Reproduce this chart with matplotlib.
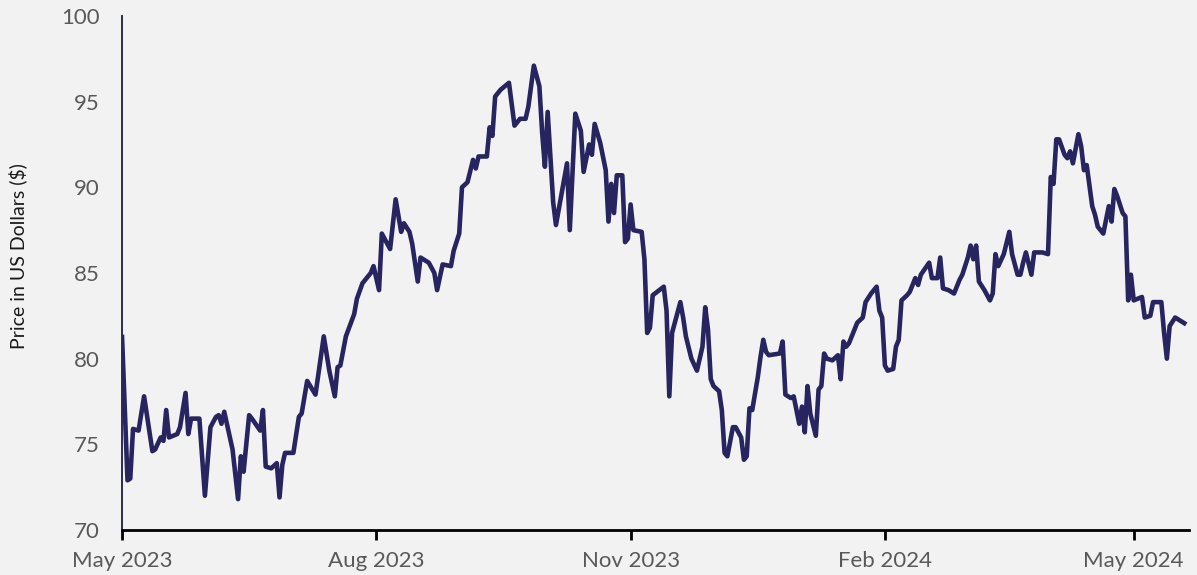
import matplotlib
matplotlib.use("Agg")
import matplotlib.pyplot as plt
import pandas as pd

dates = [
    "2023-05-01", "2023-05-03", "2023-05-04", "2023-05-05", "2023-05-07", "2023-05-09",
    "2023-05-12", "2023-05-13", "2023-05-15", "2023-05-16", "2023-05-17", "2023-05-18",
    "2023-05-21", "2023-05-22", "2023-05-24", "2023-05-25", "2023-05-26", "2023-05-29",
    "2023-05-31", "2023-06-02", "2023-06-04", "2023-06-05", "2023-06-06", "2023-06-07",
    "2023-06-10", "2023-06-12", "2023-06-13", "2023-06-14", "2023-06-16", "2023-06-17",
    "2023-06-20", "2023-06-21", "2023-06-22", "2023-06-24", "2023-06-26", "2023-06-27",
    "2023-06-28", "2023-06-29", "2023-07-02", "2023-07-04", "2023-07-05", "2023-07-07",
    "2023-07-10", "2023-07-13", "2023-07-15", "2023-07-17", "2023-07-18", "2023-07-19",
    "2023-07-21", "2023-07-24", "2023-07-25", "2023-07-27", "2023-07-30", "2023-07-31",
    "2023-08-02", "2023-08-03", "2023-08-06", "2023-08-08", "2023-08-10", "2023-08-11",
    "2023-08-13", "2023-08-14", "2023-08-16", "2023-08-17", "2023-08-20", "2023-08-22",
    "2023-08-23", "2023-08-25", "2023-08-28", "2023-08-29", "2023-08-31", "2023-09-01",
    "2023-09-03", "2023-09-05", "2023-09-06", "2023-09-07", "2023-09-10", "2023-09-11",
    "2023-09-12", "2023-09-13", "2023-09-15", "2023-09-18", "2023-09-20", "2023-09-22",
    "2023-09-24", "2023-09-25", "2023-09-27", "2023-09-29", "2023-09-30", "2023-10-01",
    "2023-10-02", "2023-10-04", "2023-10-05", "2023-10-07", "2023-10-09", "2023-10-10",
    "2023-10-12", "2023-10-14", "2023-10-15", "2023-10-17", "2023-10-18", "2023-10-19",
    "2023-10-21", "2023-10-23", "2023-10-24", "2023-10-25", "2023-10-26", "2023-10-27",
    "2023-10-29", "2023-10-30", "2023-10-31", "2023-11-01", "2023-11-02", "2023-11-05",
    "2023-11-06", "2023-11-07", "2023-11-08", "2023-11-09", "2023-11-13", "2023-11-14",
    "2023-11-15", "2023-11-16", "2023-11-19", "2023-11-20", "2023-11-21", "2023-11-23",
    "2023-11-25", "2023-11-27", "2023-11-28", "2023-11-29", "2023-11-30", "2023-12-01",
    "2023-12-03", "2023-12-04", "2023-12-05", "2023-12-06", "2023-12-08", "2023-12-09",
    "2023-12-11", "2023-12-12", "2023-12-13", "2023-12-14", "2023-12-15", "2023-12-17",
    "2023-12-18", "2023-12-19", "2023-12-20", "2023-12-21", "2023-12-25", "2023-12-26",
    "2023-12-27", "2023-12-29", "2023-12-30", "2024-01-01", "2024-01-02", "2024-01-03",
    "2024-01-04", "2024-01-05", "2024-01-07", "2024-01-08", "2024-01-09", "2024-01-10",
    "2024-01-11", "2024-01-13", "2024-01-15", "2024-01-16", "2024-01-17", "2024-01-18",
    "2024-01-19", "2024-01-20", "2024-01-22", "2024-01-24", "2024-01-25", "2024-01-27",
    "2024-01-29", "2024-01-30", "2024-01-31", "2024-02-01", "2024-02-02", "2024-02-04",
    "2024-02-05", "2024-02-06", "2024-02-07", "2024-02-09", "2024-02-10", "2024-02-12",
    "2024-02-13", "2024-02-14", "2024-02-17", "2024-02-18", "2024-02-20", "2024-02-21",
    "2024-02-22", "2024-02-24", "2024-02-26", "2024-02-28", "2024-02-29", "2024-03-02",
    "2024-03-03", "2024-03-04", "2024-03-05", "2024-03-06", "2024-03-08", "2024-03-10",
    "2024-03-11", "2024-03-12", "2024-03-13", "2024-03-15", "2024-03-17", "2024-03-18",
    "2024-03-20", "2024-03-21", "2024-03-22", "2024-03-23", "2024-03-25", "2024-03-26",
    "2024-03-29", "2024-03-31", "2024-04-01", "2024-04-02", "2024-04-03", "2024-04-04",
    "2024-04-06", "2024-04-07", "2024-04-08", "2024-04-09", "2024-04-11", "2024-04-12",
    "2024-04-13", "2024-04-14", "2024-04-16", "2024-04-17", "2024-04-18", "2024-04-20",
    "2024-04-22", "2024-04-23", "2024-04-24", "2024-04-25", "2024-04-27", "2024-04-28",
    "2024-04-29", "2024-04-30", "2024-05-01", "2024-05-04", "2024-05-05", "2024-05-07",
    "2024-05-08", "2024-05-11", "2024-05-12", "2024-05-13", "2024-05-14", "2024-05-16",
    "2024-05-20",
]

prices = [
    81.4, 72.9, 73.0, 75.9, 75.8, 77.8,
    74.6, 74.7, 75.4, 75.2, 77.0, 75.4,
    75.6, 76.0, 78.0, 75.6, 76.5, 76.5,
    72.0, 76.0, 76.6, 76.7, 76.2, 76.9,
    74.7, 71.8, 74.3, 73.4, 76.7, 76.5,
    75.8, 77.0, 73.7, 73.6, 73.9, 71.9,
    73.8, 74.5, 74.5, 76.6, 76.8, 78.7,
    77.9, 81.3, 79.3, 77.8, 79.5, 79.6,
    81.3, 82.6, 83.5, 84.4, 85.0, 85.4,
    84.0, 87.3, 86.4, 89.3, 87.4, 87.9,
    87.4, 86.7, 84.5, 85.9, 85.6, 85.0,
    84.0, 85.5, 85.4, 86.3, 87.3, 90.0,
    90.3, 91.6, 91.1, 91.8, 91.8, 93.5,
    93.0, 95.3, 95.7, 96.1, 93.6, 94.0,
    94.0, 94.7, 97.1, 95.9, 93.2, 91.2,
    94.4, 89.1, 87.8, 89.6, 91.4, 87.5,
    94.3, 93.3, 90.9, 92.5, 91.9, 93.7,
    92.6, 91.0, 88.0, 90.2, 88.5, 90.7,
    90.7, 86.8, 87.0, 89.0, 87.5, 87.4,
    85.8, 81.5, 81.8, 83.7, 84.2, 82.8,
    77.8, 81.5, 83.3, 82.4, 81.3, 80.0,
    79.3, 80.7, 83.0, 81.7, 78.8, 78.4,
    78.1, 77.0, 74.5, 74.3, 76.0, 76.0,
    75.4, 74.1, 74.3, 77.1, 77.0, 78.9,
    80.1, 81.1, 80.4, 80.2, 80.3, 81.0,
    77.9, 77.7, 77.8, 76.2, 77.2, 75.7,
    78.4, 76.8, 75.5, 78.2, 78.4, 80.3,
    80.0, 79.9, 80.2, 78.8, 81.0, 80.7,
    80.9, 81.3, 82.1, 82.4, 83.3, 83.8,
    84.2, 82.8, 82.4, 79.6, 79.3, 79.4,
    80.7, 81.1, 83.4, 83.7, 83.9, 84.7,
    84.3, 84.9, 85.6, 84.7, 84.7, 85.9,
    84.1, 84.0, 83.8, 84.6, 84.9, 85.9,
    86.6, 85.8, 86.6, 84.5, 84.0, 83.4,
    83.8, 86.1, 85.4, 86.1, 87.4, 86.1,
    84.9, 84.9, 85.6, 86.2, 84.9, 86.2,
    86.2, 86.1, 90.6, 90.2, 92.8, 92.8,
    91.9, 91.7, 92.1, 91.4, 93.1, 92.4,
    91.0, 91.3, 88.9, 88.4, 87.7, 87.3,
    88.9, 88.0, 89.9, 89.5, 88.5, 88.3,
    83.4, 84.9, 83.4, 83.6, 82.4, 82.5,
    83.3, 83.3, 81.5, 80.0, 81.9, 82.4,
    82.0,
]

tick_dates = ["2023-05-01", "2023-08-01", "2023-11-01", "2024-02-01", "2024-05-01"]
tick_labels = ["May 2023", "Aug 2023", "Nov 2023", "Feb 2024", "May 2024"]
y_ticks = [70, 75, 80, 85, 90, 95, 100]

plt.rcParams["font.family"] = ["Lato", "DejaVu Sans"]

bg = "#f2f2f2"
fig = plt.figure(figsize=(11.97, 5.75), dpi=100, facecolor=bg)
ax = fig.add_axes([0.1019, 0.0783, 0.8914, 0.8939], facecolor=bg)

x = pd.to_datetime(dates)
ax.plot(x, prices, color="#27245f", lw=3.3, solid_joinstyle="round", solid_capstyle="butt")

ax.set_ylim(70, 100)
ax.set_xlim(pd.Timestamp("2023-05-01"), pd.Timestamp("2024-05-21"))
ax.set_yticks(y_ticks)
ax.set_xticks(pd.to_datetime(tick_dates))
ax.set_xticklabels(tick_labels)

for s in ["top", "right"]:
    ax.spines[s].set_visible(False)
ax.spines["left"].set_color("#2b2a55")
ax.spines["left"].set_linewidth(1.4)
ax.spines["bottom"].set_color("#000000")
ax.spines["bottom"].set_linewidth(2.0)

ax.tick_params(axis="y", length=0, pad=16, labelsize=16, labelcolor="#595959")
ax.tick_params(axis="x", length=7, width=2, color="#000000", pad=8,
               labelsize=16, labelcolor="#595959")

ax.set_ylabel("Price in US Dollars ($)", fontsize=14, color="#1a1a1a")
ax.yaxis.set_label_coords(-0.089, 0.533)

fig.savefig("out.png", dpi=100, facecolor=bg)
